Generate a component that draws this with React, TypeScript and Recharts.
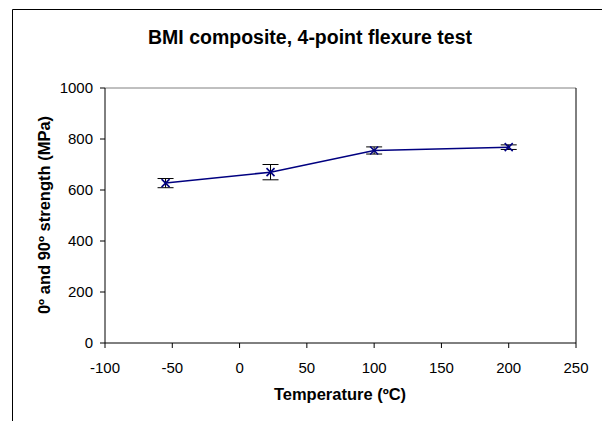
import React from 'react';
import {
  LineChart,
  Line,
  XAxis,
  YAxis,
  ErrorBar,
  ReferenceLine,
} from 'recharts';

const temperatures = [-55, 23, 100, 200];
const strength = [627, 670, 755, 768];
const strengthError = [18, 30, 14, 9];

const xTicks = [-100, -50, 0, 50, 100, 150, 200, 250];
const yTicks = [0, 200, 400, 600, 800, 1000];

const data = temperatures.map((t, i) => ({
  temp: t,
  strength: strength[i],
  err: strengthError[i],
}));

const FONT = 'Arial, "Liberation Sans", sans-serif';
const NAVY = '#000080';

// x-shaped marker for each measurement
function CrossDot(props: any) {
  const { cx, cy } = props;
  if (cx == null || cy == null) return null;
  const s = 4;
  return (
    <g>
      <line x1={cx - s} y1={cy - s} x2={cx + s} y2={cy + s} stroke={NAVY} strokeWidth={1.6} />
      <line x1={cx - s} y1={cy + s} x2={cx + s} y2={cy - s} stroke={NAVY} strokeWidth={1.6} />
    </g>
  );
}

export default function App() {
  return (
    <div style={{ position: 'absolute', left: 0, top: 0, width: 602, height: 421, background: '#fff' }}>
      <LineChart
        width={602}
        height={421}
        data={data}
        margin={{ top: 88, right: 26, left: 12, bottom: 8 }}
      >
        <XAxis
          type="number"
          dataKey="temp"
          domain={[-100, 250]}
          ticks={xTicks}
          interval={0}
          height={70}
          tick={{ fontSize: 15, fill: '#000', fontFamily: FONT }}
          tickSize={5}
          tickMargin={14}
          axisLine={{ stroke: '#000' }}
          tickLine={{ stroke: '#000' }}
        />
        <YAxis
          type="number"
          domain={[0, 1000]}
          ticks={yTicks}
          interval={0}
          width={93}
          tick={{ fontSize: 15, fill: '#000', fontFamily: FONT }}
          tickSize={5}
          tickMargin={7}
          axisLine={{ stroke: '#000' }}
          tickLine={{ stroke: '#000' }}
        />
        {/* plot-area frame */}
        <ReferenceLine y={1000} stroke="#808080" strokeWidth={1} />
        <ReferenceLine x={250} stroke="#000" strokeWidth={1} />
        <Line
          type="linear"
          dataKey="strength"
          stroke={NAVY}
          strokeWidth={1.5}
          dot={<CrossDot />}
          activeDot={false}
          isAnimationActive={false}
        >
          <ErrorBar dataKey="err" direction="y" width={8} stroke="#000" strokeWidth={1} />
        </Line>
      </LineChart>
      <svg
        width={602}
        height={421}
        style={{ position: 'absolute', left: 0, top: 0, pointerEvents: 'none' }}
      >
        <path d="M12.5 421 L12.5 9.5 L602 9.5" fill="none" stroke="#000" strokeWidth={1} />
        <text
          x={310}
          y={44}
          textAnchor="middle"
          fontFamily={FONT}
          fontWeight="bold"
          fontSize={19.5}
          fill="#000"
        >
          BMI composite, 4-point flexure test
        </text>
        <text
          x={340}
          y={400}
          textAnchor="middle"
          fontFamily={FONT}
          fontWeight="bold"
          fontSize={16.5}
          fill="#000"
        >
          Temperature (ºC)
        </text>
        <text
          x={50}
          y={215}
          textAnchor="middle"
          transform="rotate(-90 50 215)"
          fontFamily={FONT}
          fontWeight="bold"
          fontSize={16.5}
          fill="#000"
        >
          0º and 90º strength (MPa)
        </text>
      </svg>
    </div>
  );
}
